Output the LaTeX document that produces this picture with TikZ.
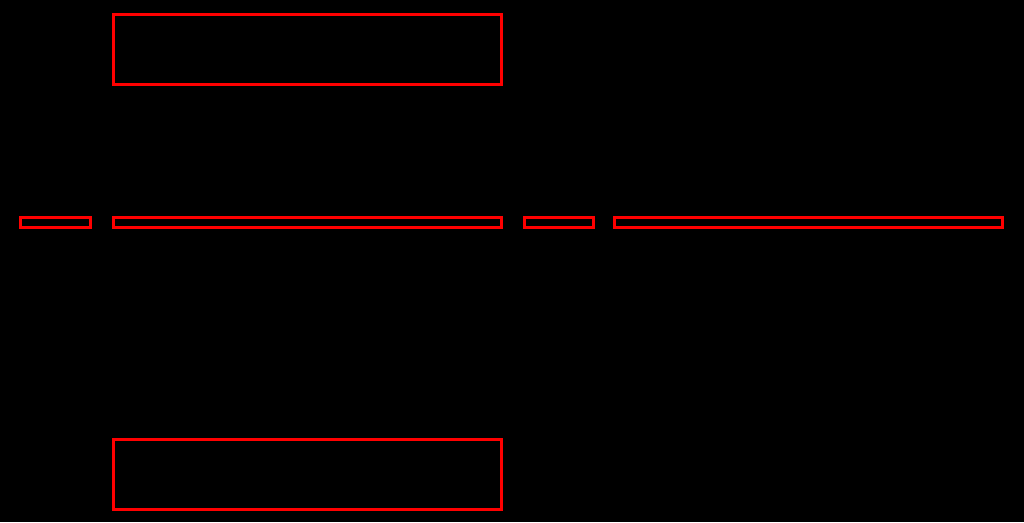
\documentclass[tikz,border=0pt]{standalone}
\begin{document}
\begin{tikzpicture}[x=1pt,y=-1pt,
  box/.style={draw=red,line width=3pt,inner sep=0pt,outer sep=0pt,fill=none}]
\fill[black] (0,0) rectangle (1024,522);
\useasboundingbox (0,0) rectangle (1024,522);
\node[box,minimum width=388.3pt,minimum height=69.5pt] (top) at (307.8,49.3) {};
\node[box,minimum width=69.4pt,minimum height=10.5pt] (l1) at (55.5,222.7) {};
\node[box,minimum width=388.3pt,minimum height=10.5pt] (l2) at (307.8,222.7) {};
\node[box,minimum width=68.7pt,minimum height=10.5pt] (l3) at (559.2,222.7) {};
\node[box,minimum width=387.4pt,minimum height=10.5pt] (l4) at (808.5,222.7) {};
\node[box,minimum width=388.3pt,minimum height=69.7pt] (bot) at (307.8,474.4) {};
\end{tikzpicture}
\end{document}
